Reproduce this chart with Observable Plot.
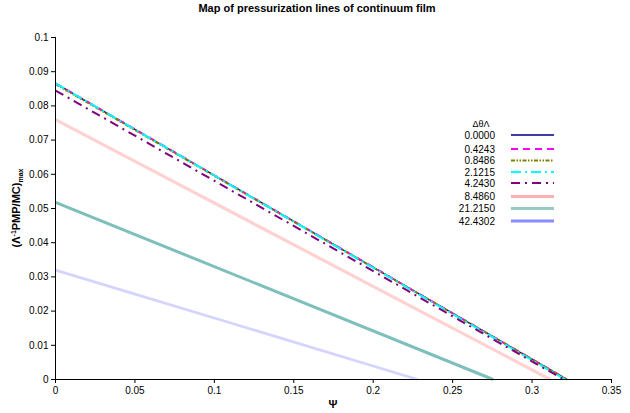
<!DOCTYPE html>
<html>
<head>
<meta charset="utf-8">
<script src="https://cdn.jsdelivr.net/npm/d3@7"></script>
<script src="https://cdn.jsdelivr.net/npm/@observablehq/plot@0.6"></script>
<style>
html,body{margin:0;padding:0;background:#fff;}
#chart{width:630px;height:413px;position:relative;}
svg text{font-family:"Liberation Sans",Arial,sans-serif;}
</style>
</head>
<body>
<div id="chart"></div>
<script>
// Series: ΔθΛ values, intercept on y-axis (Ψ = 0) and intercept on x-axis (y = 0)
const seriesLabels = ["0.0000", "0.4243", "0.8486", "2.1215", "4.2430", "8.4860", "21.2150", "42.4302"];
const yAtZero      = [0.0866, 0.0866, 0.0864, 0.0866, 0.0845, 0.0760, 0.0518, 0.0320];
const xAtZero      = [0.322, 0.322, 0.322, 0.321, 0.320, 0.3115, 0.2755, 0.228];
const xTicks = [0, 0.05, 0.1, 0.15, 0.2, 0.25, 0.3, 0.35];
const yTicks = [0, 0.01, 0.02, 0.03, 0.04, 0.05, 0.06, 0.07, 0.08, 0.09, 0.1];

const styles = {
  "0.0000":  {stroke: "#000080", width: 1.3, dash: null},
  "0.4243":  {stroke: "#ff00ff", width: 2, dash: "7,5"},
  "0.8486":  {stroke: "#808000", width: 2, dash: "4,1.5,1.5,1.5,1.5,1.5"},
  "2.1215":  {stroke: "#00ffff", width: 2, dash: "10,4,2,4"},
  "4.2430":  {stroke: "#800080", width: 2, dash: "9,5,2,5"},
  "8.4860":  {stroke: "#ffd2d2", width: 3.2, dash: null},
  "21.2150": {stroke: "#7fbfbb", width: 3, dash: null},
  "42.4302": {stroke: "#d4d4ff", width: 2.8, dash: null}
};
const legendStroke = {"8.4860": "#ffb0b0", "21.2150": "#96cac6", "42.4302": "#8c8cff"};

const rows = [];
seriesLabels.forEach((s, i) => {
  rows.push({series: s, psi: 0, val: yAtZero[i]});
  rows.push({series: s, psi: xAtZero[i], val: 0});
});

const W = 630, H = 413;
const mL = 55, mR = 19, mT = 37, mB = 34;

const lineMarks = seriesLabels.map(s => Plot.line(rows.filter(r => r.series === s), {
  x: "psi", y: "val",
  stroke: styles[s].stroke,
  strokeWidth: styles[s].width,
  strokeDasharray: styles[s].dash,
  strokeLinecap: "butt"
}));

const plot = Plot.plot({
  width: W, height: H,
  marginLeft: mL, marginRight: mR, marginTop: mT, marginBottom: mB,
  style: {fontFamily: "'Liberation Sans', Arial, sans-serif", fontSize: "10px", background: "#fff", color: "#000"},
  x: {domain: [0, 0.35], ticks: xTicks, tickFormat: d => String(+d.toFixed(2)), label: null},
  y: {domain: [0, 0.1], ticks: yTicks, tickFormat: d => String(+d.toFixed(2)), label: null},
  marks: [
    ...lineMarks,
    Plot.ruleX([0], {stroke: "#000", strokeWidth: 1}),
    Plot.ruleY([0], {stroke: "#000", strokeWidth: 1}),
    Plot.axisX({ticks: xTicks, tickSize: 4, tickPadding: 3, tickFormat: d => String(+d.toFixed(2)), label: null, fontSize: 10}),
    Plot.axisY({ticks: yTicks, tickSize: 4, tickPadding: 3, tickFormat: d => String(+d.toFixed(2)), label: null, fontSize: 10})
  ]
});
document.getElementById("chart").appendChild(plot);

const svg = d3.select(plot);
// Title
svg.append("text").attr("x", 317).attr("y", 12).attr("text-anchor", "middle")
  .attr("font-size", 11).attr("font-weight", "bold").text("Map of pressurization lines of continuum film");
// X label
svg.append("text").attr("x", 333).attr("y", 408).attr("text-anchor", "middle")
  .attr("font-size", 11).attr("font-weight", "bold").text("Ψ");
// Y label
const yl = svg.append("text").attr("transform", "translate(20,208) rotate(-90)")
  .attr("text-anchor", "middle").attr("font-size", 11).attr("font-weight", "bold");
yl.append("tspan").text("(Λ");
yl.append("tspan").attr("font-size", 7).attr("dy", -4).text("-1");
yl.append("tspan").attr("dy", 4).text("PMP/ΜC)");
yl.append("tspan").attr("font-size", 7).attr("dy", 3).text("max");

// Legend
const lg = svg.append("g");
lg.append("text").attr("x", 481).attr("y", 127).attr("text-anchor", "middle").attr("font-size", 9).text("ΔθΛ");
const rowY = [135, 149, 160.5, 172, 183, 196.5, 208.5, 221];
seriesLabels.forEach((s, i) => {
  const y = rowY[i];
  lg.append("text").attr("x", 495).attr("y", y + 3.5).attr("text-anchor", "end").attr("font-size", 10).text(s);
  lg.append("line").attr("x1", 511).attr("x2", 554).attr("y1", y).attr("y2", y)
    .attr("stroke", legendStroke[s] || styles[s].stroke)
    .attr("stroke-width", styles[s].width)
    .attr("stroke-dasharray", styles[s].dash);
});
</script>
</body>
</html>
